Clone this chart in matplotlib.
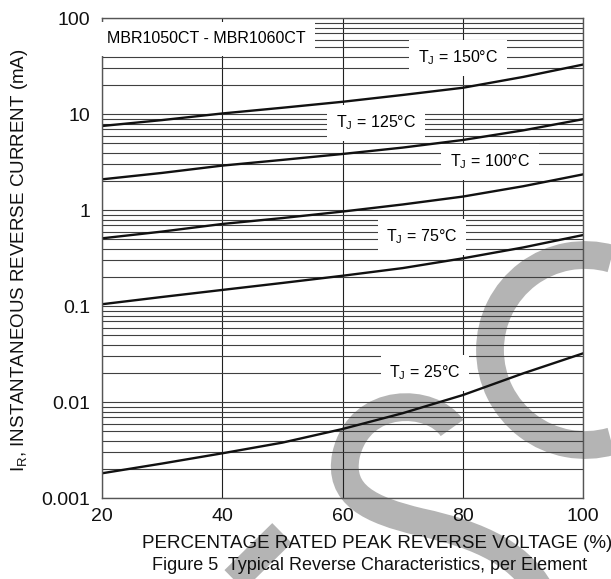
import numpy as np
import matplotlib
matplotlib.use('Agg')
import matplotlib.pyplot as plt
from matplotlib.path import Path
from matplotlib.patches import PathPatch, Arc
from matplotlib.ticker import LogLocator, NullFormatter

plt.rcParams['font.family'] = ['Liberation Sans', 'DejaVu Sans']
plt.rcParams['mathtext.default'] = 'regular'

# data (percent of rated voltage vs mA)
pct = [20, 30, 40, 50, 60, 70, 80, 90, 100]
ir_150 = [7.55, 8.7, 10.2, 11.7, 13.5, 15.9, 18.9, 24.5, 33.0]
ir_125 = [2.1, 2.45, 2.92, 3.35, 3.86, 4.5, 5.4, 6.8, 8.9]
ir_100 = [0.51, 0.60, 0.72, 0.83, 0.97, 1.15, 1.39, 1.78, 2.37]
ir_75 = [0.105, 0.125, 0.148, 0.175, 0.208, 0.25, 0.316, 0.41, 0.553]
ir_25 = [0.00182, 0.0023, 0.00294, 0.0038, 0.00527, 0.0077, 0.0119, 0.020, 0.0324]

curve_labels = ['T$_J$ = 150°C', 'T$_J$ = 125°C', 'T$_J$ = 100°C',
                'T$_J$ = 75°C', 'T$_J$ = 25°C']
label_pos = [(79.2, 38.6), (65.6, 8.1), (84.5, 3.18), (73.2, 0.527), (73.7, 0.0202)]

yticks = [0.001, 0.01, 0.1, 1, 10, 100]
ytick_labels = ['0.001', '0.01', '0.1', '1', '10', '100']
xticks = [20, 40, 60, 80, 100]

W, H = 611, 579
fig = plt.figure(figsize=(W / 100, H / 100), dpi=100)
fig.patch.set_facecolor('white')

# watermark behind everything
wm = fig.add_axes([0, 0, 1, 1], zorder=-1)
wm.set_xlim(0, W)
wm.set_ylim(H, 0)
wm.axis('off')
gray = '#b4b4b4'
s_verts = [(452, 428), (432, 398), (360, 395), (346, 455),
           (338, 495), (370, 510), (420, 522),
           (480, 535), (525, 555), (545, 600)]
s_codes = [Path.MOVETO] + [Path.CURVE4] * 9
wm.add_patch(PathPatch(Path(s_verts, s_codes), fill=False, ec=gray, lw=20, capstyle='butt'))
wm.plot([222, 282], [592, 533], color=gray, lw=20, solid_capstyle='butt')
wm.add_patch(Arc((585, 350), 190, 190, theta1=74, theta2=286, color=gray, lw=20))

ax = fig.add_axes([101.7 / W, (H - 498.3) / H, 481.6 / W, 480 / H])
ax.set_facecolor('none')

for ys in [ir_150, ir_125, ir_100, ir_75, ir_25]:
    ax.plot(pct, ys, color='#111111', lw=1.7, zorder=2)

ax.set_yscale('log')
ax.set_xlim(20, 100)
ax.set_ylim(0.001, 100)
ax.set_yticks(yticks, ytick_labels)
ax.yaxis.set_minor_locator(LogLocator(base=10, subs=np.arange(2, 10)))
ax.yaxis.set_minor_formatter(NullFormatter())
ax.set_xticks(xticks)
ax.tick_params(which='both', length=0, labelsize=14, colors='#111111')
ax.tick_params(axis='y', pad=8)
ax.tick_params(axis='x', pad=7)

ax.grid(axis='y', which='both', color='#404040', lw=0.8, zorder=1)
ax.grid(axis='x', which='major', color='#202020', lw=0.8, zorder=1)
ax.set_axisbelow(True)
for sp in ax.spines.values():
    sp.set_color('#555555')
    sp.set_linewidth(1.0)

box = dict(boxstyle='square,pad=0.55', facecolor='white', edgecolor='none')
for txt, (lx, ly) in zip(curve_labels, label_pos):
    ax.text(lx, ly, txt, fontsize=11.5, ha='center', va='center', bbox=box, zorder=3)

ax.text(37.4, 61, 'MBR1050CT - MBR1060CT', fontsize=11.5, ha='center', va='center',
        bbox=dict(boxstyle='square,pad=0.6', facecolor='white', edgecolor='none'), zorder=3)

fig.text(377 / W, 1 - 543 / H, 'PERCENTAGE RATED PEAK REVERSE VOLTAGE (%)',
         fontsize=13.5, ha='center', va='center', color='#111111')
fig.text(370 / W, 1 - 566 / H, 'Figure 5  Typical Reverse Characteristics, per Element',
         fontsize=13, ha='center', va='center', color='#111111')
fig.text(20 / W, 1 - 260 / H, 'I$_R$, INSTANTANEOUS REVERSE CURRENT (mA)',
         fontsize=13.5, ha='center', va='center', rotation=90, color='#111111')

fig.savefig('out.png', dpi=100)
